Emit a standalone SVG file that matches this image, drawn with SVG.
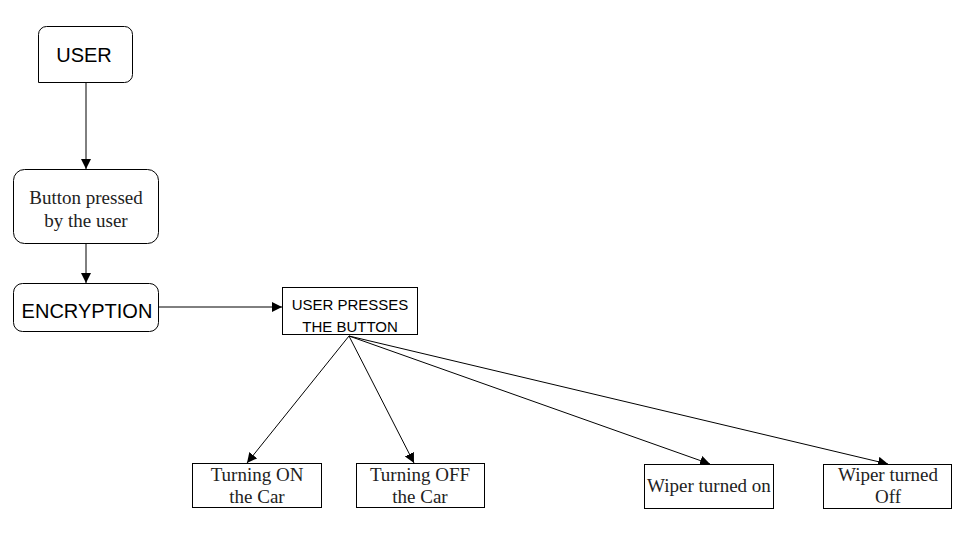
<svg xmlns="http://www.w3.org/2000/svg" width="976" height="539" viewBox="0 0 976 539">
<defs>
<style>
.b{fill:#fff;stroke:#000;stroke-width:1}
.s{font-family:"Liberation Sans",Arial,sans-serif;fill:#000;text-anchor:middle}
.r{font-family:"Liberation Serif","Times New Roman",serif;font-size:19px;fill:#222;text-anchor:middle}
.c line{stroke:#000;stroke-width:1;marker-end:url(#a)}
</style>
<marker id="a" viewBox="0 0 10 10" refX="10" refY="5" markerWidth="10" markerHeight="10" markerUnits="userSpaceOnUse" orient="auto"><path d="M0,0L10,5L0,10z" fill="#000"/></marker>
</defs>
<rect width="976" height="539" fill="#fff"/>
<g class="c">
<line x1="86" y1="83" x2="86" y2="169"/>
<line x1="86" y1="243" x2="86" y2="283"/>
<line x1="158" y1="307" x2="282" y2="307"/>
<line x1="349" y1="336" x2="247" y2="463"/>
<line x1="349" y1="336" x2="414" y2="463"/>
<line x1="349" y1="336" x2="710" y2="464"/>
<line x1="349" y1="336" x2="888" y2="464"/>
</g>
<g id="user"><path class="b" d="M46.5,26.5H124.5A8,8 0 0 1 132.5,34.5V74.5A8,8 0 0 1 124.5,82.5H38.5V34.5A8,8 0 0 1 46.5,26.5Z"/><text class="s" x="84" y="62" font-size="20">USER</text></g>
<g id="button"><rect class="b" x="13.5" y="169.5" width="145" height="74" rx="11"/><text class="r" x="86" y="204">Button pressed</text><text class="r" x="86" y="227">by the user</text></g>
<g id="encryption"><rect class="b" x="13.5" y="283.5" width="145" height="48" rx="9"/><text class="s" x="87" y="318" font-size="20">ENCRYPTION</text></g>
<g id="presses"><rect class="b" x="282.5" y="287.5" width="135" height="47"/><text class="s" x="350" y="310" font-size="15">USER PRESSES</text><text class="s" x="350" y="332" font-size="15">THE BUTTON</text></g>
<g id="on"><rect class="b" x="192.5" y="463.5" width="129" height="44"/><text class="r" x="257" y="481">Turning ON</text><text class="r" x="257" y="503">the Car</text></g>
<g id="off"><rect class="b" x="356.5" y="463.5" width="128" height="44"/><text class="r" x="420" y="481">Turning OFF</text><text class="r" x="420" y="503">the Car</text></g>
<g id="wiperon"><rect class="b" x="644.5" y="464.5" width="129" height="44"/><text class="r" x="709" y="492">Wiper turned on</text></g>
<g id="wiperoff"><rect class="b" x="823.5" y="464.5" width="128" height="44"/><text class="r" x="888" y="481">Wiper turned</text><text class="r" x="888" y="503">Off</text></g>
</svg>
